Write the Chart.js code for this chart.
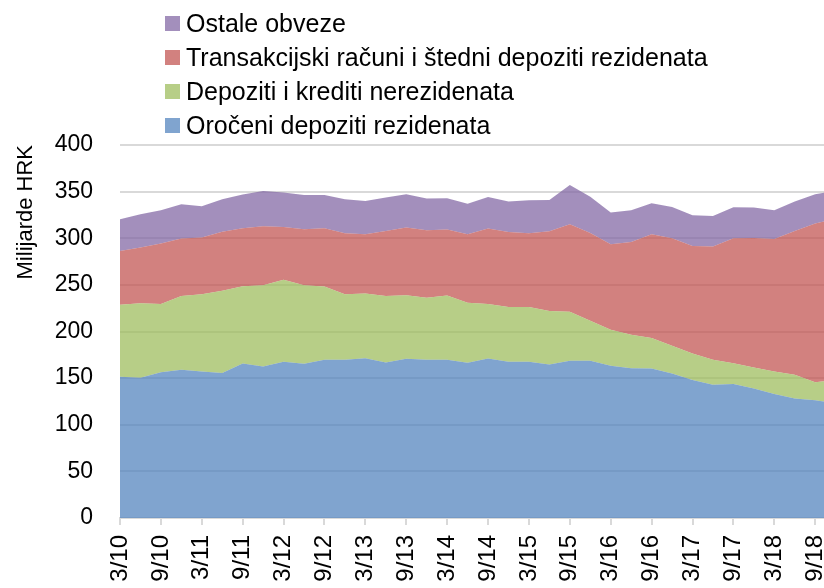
<!DOCTYPE html>
<html>
<head>
<meta charset="utf-8">
<script src="https://cdn.jsdelivr.net/npm/chart.js@4"></script>
<style>
  html, body { margin: 0; padding: 0; background: #fff; overflow: hidden; }
  #wrap { position: relative; width: 854px; height: 588px; }
  #legend {
    position: absolute; left: 165px; top: 6px;
    font-family: 'Liberation Sans', Arial, sans-serif; font-size: 25px; color: #000;
  }
  .item { height: 34px; display: flex; align-items: center; white-space: nowrap; }
  .box { width: 15px; height: 15px; margin-right: 6px; flex: none; }
</style>
</head>
<body>
<div id="wrap">
  <canvas id="chart"></canvas>
  <div id="legend"></div>
</div>
<script>
// quarterly, 3/10 .. 12/18
const quarters = [];
for (let y = 10; y <= 18; y++) {
    ['3', '6', '9', '12'].forEach(m => quarters.push(m + '/' + y));
}

const seriesNames = [
    'Oročeni depoziti rezidenata',
    'Depoziti i krediti nerezidenata',
    'Transakcijski računi i štedni depoziti rezidenata',
    'Ostale obveze'
];

// milijarde HRK
const orocheni = [151.4, 150.4, 156.4, 158.9, 157.1, 155.4, 165.7, 162.5, 167.5, 165.4, 169.6, 169.6,
    171.4, 166.8, 170.7, 169.6, 169.6, 166.4, 171.1, 167.5, 167.5, 164.6, 168.6, 168.5,
    163.2, 160.7, 160.4, 155.0, 147.9, 142.9, 143.6, 139.0, 132.9, 128.2, 126.4, 123.0];
const nerezidenti = [77.2, 80.0, 73.2, 79.3, 82.9, 88.2, 82.9, 87.1, 87.9, 84.2, 78.6, 70.4,
    69.3, 71.4, 68.2, 66.5, 69.0, 64.3, 58.5, 58.9, 58.9, 57.5, 52.5, 42.9,
    38.6, 35.7, 32.5, 29.6, 28.5, 26.7, 22.4, 22.4, 24.2, 25.4, 19.3, 25.0];
const transakcijski = [57.8, 59.6, 64.7, 61.4, 60.7, 63.4, 62.1, 63.3, 56.7, 60.0, 62.5, 65.4,
    63.6, 69.7, 72.5, 72.5, 70.7, 73.6, 80.8, 80.4, 79.0, 85.4, 93.9, 94.1,
    91.8, 99.6, 111.4, 115.4, 115.4, 121.5, 134.0, 139.0, 142.2, 154.3, 170.0, 173.0];
const ostale = [34.0, 35.7, 35.7, 36.8, 33.6, 34.8, 36.3, 37.8, 36.9, 36.8, 35.7, 36.4,
    35.7, 35.7, 35.7, 33.9, 33.6, 32.8, 33.9, 32.5, 35.3, 33.5, 42.1, 39.0,
    33.9, 34.0, 33.2, 33.6, 32.8, 32.8, 33.2, 32.5, 30.7, 31.4, 31.4, 30.0];

const colors = [
    'rgba(79,129,189,0.72)',
    'rgba(155,187,89,0.72)',
    'rgba(192,80,77,0.72)',
    'rgba(128,100,162,0.72)'
];

const font = 'Liberation Sans, Arial, sans-serif';
const values = [orocheni, nerezidenti, transakcijski, ostale];

const datasets = values.map((v, i) => ({
    label: seriesNames[i],
    data: v,
    backgroundColor: colors[i],
    borderWidth: 0,
    pointRadius: 0,
    tension: 0,
    fill: i === 0 ? 'origin' : '-1'
}));

new Chart(document.getElementById('chart'), {
    type: 'line',
    data: { labels: quarters, datasets: datasets },
    options: {
        responsive: true,
        maintainAspectRatio: false,
        animation: false,
        layout: { padding: { top: 145, right: 0, left: 0, bottom: 0 } },
        plugins: {
            legend: { display: false },
            tooltip: { enabled: false }
        },
        scales: {
            x: {
                offset: false,
                grid: { drawOnChartArea: false, drawTicks: true, tickLength: 7, color: '#d9d9d9', lineWidth: 2 },
                border: { color: '#d9d9d9', width: 2 },
                ticks: {
                    autoSkip: false,
                    maxRotation: 90,
                    minRotation: 90,
                    padding: 10,
                    color: '#000',
                    font: { family: font, size: 24 },
                    callback: function(val, idx) {
                        return idx % 2 === 0 ? this.getLabelForValue(val) : null;
                    }
                },
                afterFit: s => { s.height = 70; }
            },
            y: {
                stacked: true,
                min: 0,
                max: 400,
                grid: { color: '#d9d9d9', lineWidth: 2, drawTicks: false },
                border: { display: false },
                ticks: { stepSize: 50, padding: 27, color: '#000', font: { family: font, size: 23 } },
                title: {
                    display: true,
                    text: 'Milijarde HRK',
                    align: 'end',
                    color: '#000',
                    font: { family: font, size: 22 },
                    padding: { top: 13, bottom: 0 }
                },
                afterFit: s => { s.width = 120; }
            }
        }
    }
});

// legend, one item per row, top series first
const legend = document.getElementById('legend');
for (let i = seriesNames.length - 1; i >= 0; i--) {
    const row = document.createElement('div');
    row.className = 'item';
    const box = document.createElement('span');
    box.className = 'box';
    box.style.background = colors[i];
    const txt = document.createElement('span');
    txt.textContent = seriesNames[i];
    row.appendChild(box);
    row.appendChild(txt);
    legend.appendChild(row);
}
</script>
</body>
</html>
